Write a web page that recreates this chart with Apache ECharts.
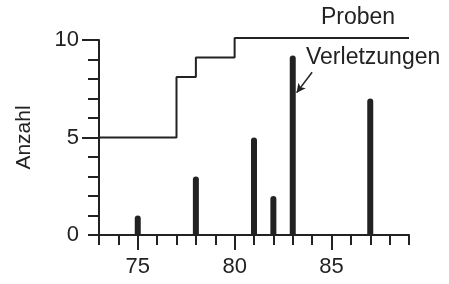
<!DOCTYPE html>
<html>
<head>
<meta charset="utf-8">
<script src="https://cdn.jsdelivr.net/npm/echarts@6/dist/echarts.min.js"></script>
<style>
  html, body { margin: 0; padding: 0; background: #fff; }
  #main { width: 449px; height: 284px; }
</style>
</head>
<body>
<div id="main"></div>
<script>
// data
const injuryYears = [75, 78, 81, 82, 83, 87];
const injuryCounts = [1, 3, 5, 2, 9.2, 7];
const sampleYears = [73, 77, 78, 80, 89];
const sampleCounts = [5, 8.1, 9.1, 10.1, 10.1];
const xTickLabels = [75, 80, 85];
const yTickLabels = [0, 5, 10];
const yLongTicks = [5, 10];

const ink = '#222';
const font = 'Liberation Sans';

const myChart = echarts.init(document.getElementById('main'));

const option = {
  animation: false,
  backgroundColor: '#fff',
  grid: { left: 99, right: 40, top: 40, bottom: 49 },
  xAxis: [
    {
      type: 'value',
      min: 73,
      max: 89,
      interval: 1,
      splitLine: { show: false },
      axisLine: { lineStyle: { color: ink, width: 2 } },
      axisTick: { length: 10, lineStyle: { color: ink, width: 2 } },
      axisLabel: {
        customValues: xTickLabels,
        margin: 21,
        fontSize: 22,
        fontFamily: font,
        color: ink,
      },
    },
    {
      // longer ticks at the labelled years
      type: 'value',
      min: 73,
      max: 89,
      position: 'bottom',
      splitLine: { show: false },
      axisLine: { show: false },
      axisTick: { customValues: xTickLabels, length: 15, lineStyle: { color: ink, width: 2 } },
      axisLabel: { show: false },
    },
  ],
  yAxis: [
    {
      type: 'value',
      min: 0,
      max: 10,
      interval: 1,
      name: 'Anzahl',
      nameLocation: 'middle',
      nameGap: 64,
      nameTextStyle: { fontSize: 21, fontFamily: font, color: ink },
      splitLine: { show: false },
      axisLine: { show: true, lineStyle: { color: ink, width: 2 } },
      axisTick: { show: true, length: 11, lineStyle: { color: ink, width: 2 } },
      axisLabel: {
        customValues: yTickLabels,
        margin: 20,
        fontSize: 22,
        fontFamily: font,
        color: ink,
      },
    },
    {
      type: 'value',
      min: 0,
      max: 10,
      position: 'left',
      splitLine: { show: false },
      axisLine: { show: false },
      axisTick: { show: true, customValues: yLongTicks, length: 17, lineStyle: { color: ink, width: 2 } },
      axisLabel: { show: false },
    },
  ],
  graphic: [
    {
      type: 'text',
      left: 321,
      top: 6,
      style: { text: 'Proben', fontSize: 23, fontFamily: font, fill: ink },
    },
    {
      type: 'text',
      left: 306,
      top: 46,
      style: { text: 'Verletzungen', fontSize: 23, fontFamily: font, fill: ink },
    },
  ],
  series: [
    {
      name: 'Proben',
      type: 'line',
      step: 'end',
      clip: false,
      showSymbol: false,
      lineStyle: { color: ink, width: 2 },
      data: sampleYears.map((x, i) => [x, sampleCounts[i]]),
    },
    {
      name: 'Verletzungen',
      type: 'bar',
      barWidth: 6,
      itemStyle: { color: ink, borderRadius: [3, 3, 0, 0] },
      data: injuryYears.map((x, i) => [x, injuryCounts[i]]),
      markLine: {
        silent: true,
        symbol: ['none', 'arrow'],
        symbolSize: [7, 9],
        label: { show: false },
        lineStyle: { color: ink, width: 1.5, type: 'solid' },
        data: [[{ coord: [84, 8.35] }, { coord: [83.2, 7.3] }]],
      },
    },
  ],
};

myChart.setOption(option);
</script>
</body>
</html>
